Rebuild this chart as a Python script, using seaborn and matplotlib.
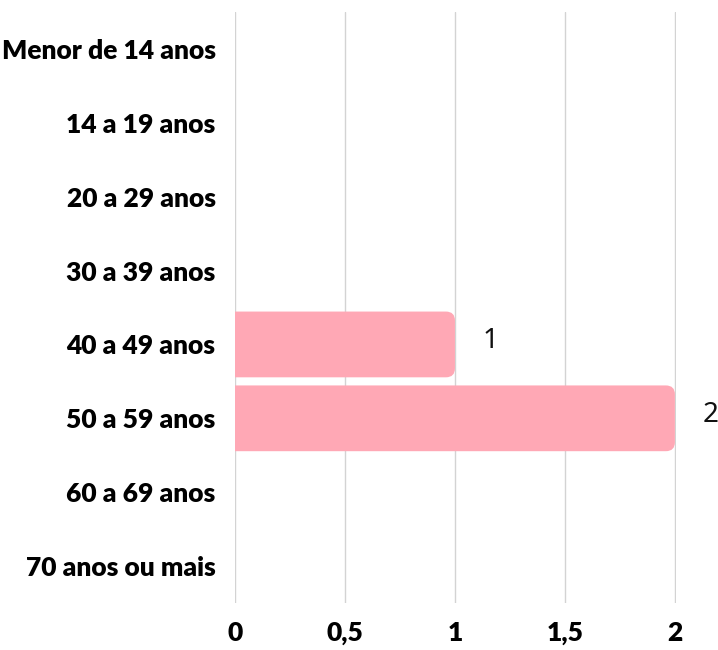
import matplotlib
matplotlib.use("Agg")
import matplotlib.pyplot as plt
from matplotlib.patches import FancyBboxPatch
import seaborn as sns
import pandas as pd

categories = ["Menor de 14 anos", "14 a 19 anos", "20 a 29 anos", "30 a 39 anos",
              "40 a 49 anos", "50 a 59 anos", "60 a 69 anos", "70 anos ou mais"]
values = [0, 0, 0, 0, 1, 2, 0, 0]
xticks = [0, 0.5, 1, 1.5, 2]
xtick_labels = ["0", "0,5", "1", "1,5", "2"]

sns.set_theme(style="white")
label_family = ["Lato", "DejaVu Sans"]
plt.rcParams["font.family"] = ["Noto Sans", "DejaVu Sans"]

df = pd.DataFrame({"faixa": categories, "valor": values})

fig = plt.figure(figsize=(7.18, 6.5), dpi=100)
ax = fig.add_axes([235 / 718, 1 - 603 / 650, (676 - 235) / 718, (603 - 12) / 650])

sns.barplot(data=df, x="valor", y="faixa", orient="h", color="#FFA8B5",
            saturation=1, width=0.89, ax=ax)

ax.set_xlim(0, 2.005)
ax.set_ylim(len(categories) - 0.5, -0.5)

# replace the plain rectangles with right-rounded bars
px_per_x = (675 - 235) / 2
px_per_y = (603 - 12) / len(categories)
radius_px = 9
for bar in list(ax.patches):
    x0, y0 = bar.get_x(), bar.get_y()
    w, h = bar.get_width(), bar.get_height()
    bar.remove()
    if w <= 0:
        continue
    pad = 0.1
    rp = FancyBboxPatch((x0 - pad, y0), w + pad, h,
                        boxstyle=f"round,pad=0,rounding_size={radius_px / px_per_x}",
                        mutation_aspect=px_per_x / px_per_y,
                        facecolor="#FFA8B5", edgecolor="none", zorder=2)
    ax.add_patch(rp)
    ax.text(x0 + w + 36 / px_per_x, y0 + h / 2 - 0.04, f"{w:g}", ha="center", va="center",
            fontsize=20, color="#111111", family=["Noto Sans", "DejaVu Sans"],
            clip_on=False)

ax.set_xticks(xticks)
ax.set_xticklabels(xtick_labels)
ax.grid(axis="x", color="#d3d3d3", linewidth=1)
ax.grid(axis="y", visible=False)
ax.set_axisbelow(True)
for s in ax.spines.values():
    s.set_visible(False)
ax.set_xlabel("")
ax.set_ylabel("")
ax.tick_params(axis="both", length=0)
ax.tick_params(axis="x", pad=13)
ax.tick_params(axis="y", pad=14)
for lab in ax.get_xticklabels() + ax.get_yticklabels():
    lab.set_family(label_family)
    lab.set_fontweight("heavy")
    lab.set_fontsize(19)
    lab.set_color("#000000")

fig.savefig("out.png", dpi=100)
